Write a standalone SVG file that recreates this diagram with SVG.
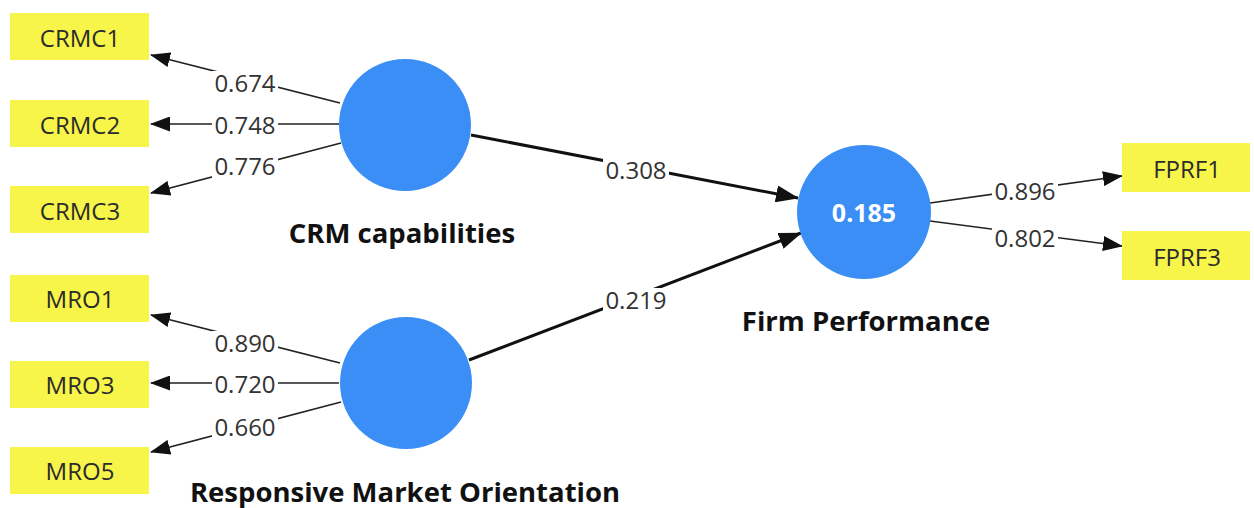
<svg xmlns="http://www.w3.org/2000/svg" width="1254" height="508" viewBox="0 0 1254 508">
  <style>
    .ind rect { fill: #f7f44a; }
    .ind text { font-family: "Open Sans", "Noto Sans", sans-serif; font-size: 24px; fill: #2b2b2b; text-anchor: middle; dominant-baseline: central; }
    .lv circle { fill: #3a8ef5; }
    .lv text.name { font-family: "Open Sans", "Noto Sans", sans-serif; font-size: 27.5px; font-weight: bold; fill: #111; text-anchor: middle; }
    .lv text.r2 { font-family: "Open Sans", "Noto Sans", sans-serif; font-size: 25px; font-weight: bold; fill: #fff; text-anchor: middle; dominant-baseline: central; }
    .load { stroke: #222; stroke-width: 1.6; fill: none; marker-end: url(#ah); }
    .path { stroke: #111; stroke-width: 3; fill: none; marker-end: url(#ahb); }
    .lblbg { fill: #fff; }
    .lbl { font-family: "Open Sans", "Noto Sans", sans-serif; font-size: 24px; fill: #333; text-anchor: middle; dominant-baseline: central; }
  </style>
  <defs>
    <marker id="ah" markerUnits="userSpaceOnUse" markerWidth="20" markerHeight="15" refX="19" refY="7.5" orient="auto">
      <path d="M0,0 L20,7.5 L0,15 Z" fill="#111"/>
    </marker>
    <marker id="ahb" markerUnits="userSpaceOnUse" markerWidth="23" markerHeight="17" refX="22" refY="8.5" orient="auto">
      <path d="M0,0 L23,8.5 L0,17 Z" fill="#111"/>
    </marker>
  </defs>
  <rect width="1254" height="508" fill="#fff"/>

  <!-- connectors with their weight labels -->
  <g id="connectors">
    <line class="load" x1="340" y1="103" x2="151" y2="55"/>
    <line class="load" x1="339" y1="124" x2="151" y2="124"/>
    <line class="load" x1="341" y1="143" x2="151" y2="193"/>
    <line class="load" x1="340" y1="363" x2="151" y2="315"/>
    <line class="load" x1="339" y1="383" x2="151" y2="383"/>
    <line class="load" x1="341" y1="402" x2="151" y2="452"/>
    <line class="load" x1="930" y1="203" x2="1122" y2="176"/>
    <line class="load" x1="930" y1="221" x2="1122" y2="246"/>
    <line class="path" x1="471" y1="135" x2="798" y2="198"/>
    <line class="path" x1="469" y1="360" x2="801" y2="233"/>
    <rect class="lblbg" x="212" y="71" width="66" height="24"/><text class="lbl" x="245" y="82">0.674</text>
    <rect class="lblbg" x="212" y="113" width="66" height="24"/><text class="lbl" x="245" y="124">0.748</text>
    <rect class="lblbg" x="212" y="154" width="66" height="24"/><text class="lbl" x="245" y="165">0.776</text>
    <rect class="lblbg" x="212" y="331" width="66" height="24"/><text class="lbl" x="245" y="342">0.890</text>
    <rect class="lblbg" x="212" y="372" width="66" height="24"/><text class="lbl" x="245" y="383">0.720</text>
    <rect class="lblbg" x="212" y="415" width="66" height="24"/><text class="lbl" x="245" y="426">0.660</text>
    <rect class="lblbg" x="603" y="158" width="66" height="24"/><text class="lbl" x="636" y="169">0.308</text>
    <rect class="lblbg" x="603" y="288" width="66" height="24"/><text class="lbl" x="636" y="299">0.219</text>
    <rect class="lblbg" x="992" y="179" width="66" height="24"/><text class="lbl" x="1025" y="190">0.896</text>
    <rect class="lblbg" x="992" y="226" width="66" height="24"/><text class="lbl" x="1025" y="237">0.802</text>
  </g>

  <!-- indicators -->
  <g id="CRMC1" class="ind"><rect x="10" y="13" width="139" height="47"/><text x="80" y="37">CRMC1</text></g>
  <g id="CRMC2" class="ind"><rect x="10" y="100" width="139" height="47"/><text x="80" y="124">CRMC2</text></g>
  <g id="CRMC3" class="ind"><rect x="10" y="186" width="139" height="47"/><text x="80" y="210">CRMC3</text></g>
  <g id="MRO1" class="ind"><rect x="10" y="275" width="139" height="47"/><text x="80" y="298">MRO1</text></g>
  <g id="MRO3" class="ind"><rect x="10" y="361" width="139" height="47"/><text x="80" y="384">MRO3</text></g>
  <g id="MRO5" class="ind"><rect x="10" y="447" width="139" height="47"/><text x="80" y="470">MRO5</text></g>
  <g id="FPRF1" class="ind"><rect x="1122" y="143" width="128" height="49"/><text x="1187" y="168">FPRF1</text></g>
  <g id="FPRF3" class="ind"><rect x="1122" y="231" width="128" height="49"/><text x="1187" y="256">FPRF3</text></g>

  <!-- latent variables -->
  <g id="CRM" class="lv"><circle cx="405" cy="125" r="66"/><text class="name" x="402" y="243">CRM capabilities</text></g>
  <g id="RMO" class="lv"><circle cx="406" cy="383" r="66"/><text class="name" x="405" y="502">Responsive Market Orientation</text></g>
  <g id="FP" class="lv"><circle cx="864" cy="212" r="67"/><text class="r2" x="864" y="212">0.185</text><text class="name" x="866" y="331">Firm Performance</text></g>
</svg>
